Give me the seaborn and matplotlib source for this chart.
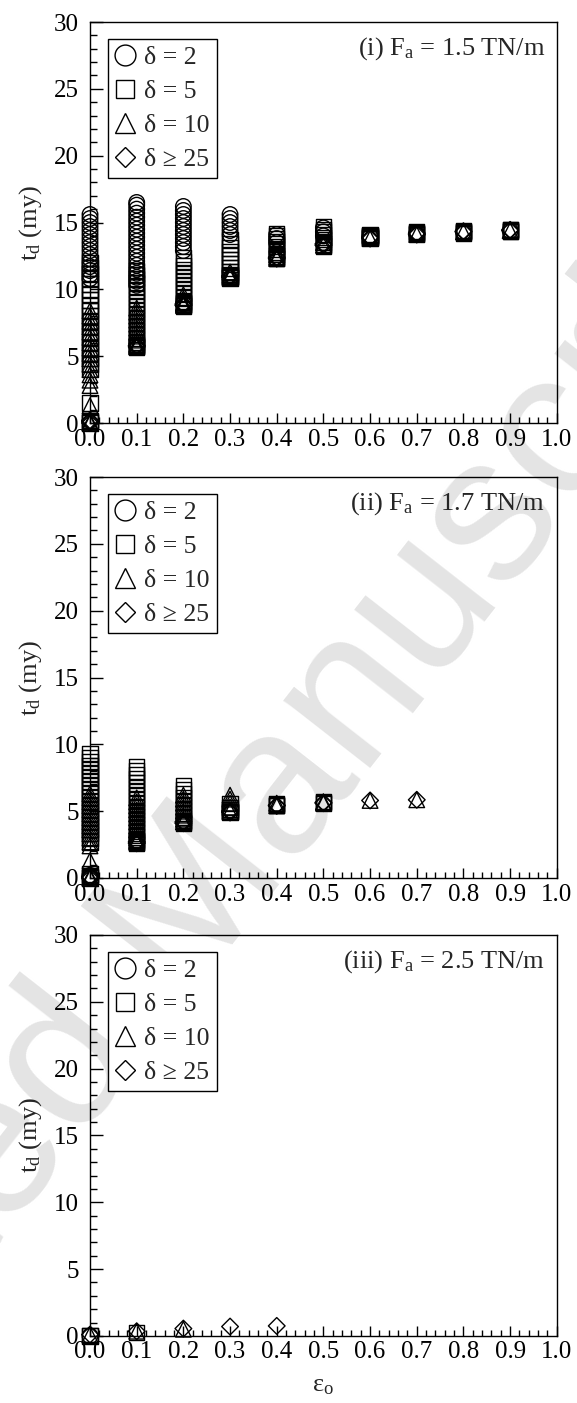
import matplotlib
matplotlib.use("Agg")
import matplotlib.pyplot as plt
from matplotlib.lines import Line2D
from matplotlib.ticker import MultipleLocator, FormatStrFormatter
import pandas as pd
import seaborn as sns

# Decay time t_d (my) versus initial eccentricity eps_o, one dict per delta:
# eccentricity -> list of decay times obtained for that delta.
fa15_d2 = {
    0.0: [15.6, 15.3, 15.0, 14.7, 14.4, 14.1, 13.8, 13.5, 13.2, 12.9, 12.6, 12.3, 12.0, 11.7, 11.4, 11.1, 10.8],
    0.1: [16.5, 16.3, 16.0, 15.7, 15.4, 15.1, 14.8, 14.5, 14.2, 13.9, 13.6, 13.3, 13.0, 12.7, 12.4, 12.1, 11.8, 11.5, 11.2, 10.9, 10.6, 10.3],
    0.2: [16.2, 15.9, 15.6, 15.3, 15.0, 14.7, 14.4, 14.1, 13.8, 13.5, 13.2, 12.9],
    0.3: [15.6, 15.3, 15.0, 14.7, 14.4, 14.1],
    0.4: [14.1, 13.8, 13.5],
    0.5: [14.6, 14.3, 14.0],
    0.6: [14.0, 13.9],
    0.7: [14.2, 14.1],
    0.8: [14.3],
    0.9: [14.4],
}
fa15_d5 = {
    0.0: [12.0, 11.6, 11.2, 10.8, 10.4, 10.0, 9.6, 9.2, 8.8, 8.4, 8.0, 7.6, 7.2, 6.8, 6.4, 6.0, 5.6, 5.2, 4.8, 4.4, 4.0, 1.5, 0.2, 0.1, 0.0],
    0.1: [11.4, 11.1, 10.8, 10.5, 10.2, 9.9, 9.6, 9.3, 9.0, 8.7, 8.4, 8.1, 7.8, 7.5, 7.2, 6.9, 6.6, 6.3, 6.0, 5.9, 5.8, 5.75, 5.7, 5.65],
    0.2: [12.4, 12.1, 11.8, 11.5, 11.2, 10.9, 10.6, 10.3, 10.0, 9.7, 9.4, 9.1, 9.0, 8.9, 8.85, 8.8, 8.75],
    0.3: [13.7, 13.4, 13.1, 12.8, 12.5, 12.2, 11.9, 11.6, 11.3, 11.1, 11.0, 10.95, 10.9, 10.85],
    0.4: [14.2, 14.0, 13.8, 13.6, 13.4, 13.2, 13.0, 12.8, 12.6, 12.5, 12.4, 12.35, 12.3],
    0.5: [14.7, 14.5, 14.3, 14.1, 13.9, 13.7, 13.5, 13.4, 13.3, 13.25],
    0.6: [14.1, 14.05, 14.0, 13.95, 13.9, 13.85, 13.8],
    0.7: [14.3, 14.25, 14.2, 14.15, 14.1],
    0.8: [14.4, 14.35, 14.3, 14.25, 14.2],
    0.9: [14.5, 14.45, 14.4, 14.35, 14.3],
}
fa15_d10 = {
    0.0: [8.4, 8.0, 7.6, 7.2, 6.8, 6.4, 6.0, 5.6, 5.2, 4.8, 4.4, 4.0, 3.6, 3.2, 2.8, 1.3, 0.1, 0.0],
    0.1: [8.6, 8.3, 8.0, 7.7, 7.4, 7.1, 6.8, 6.5, 6.2, 5.9, 5.8, 5.7],
    0.2: [9.6, 9.3, 9.0, 8.9, 8.8],
    0.3: [11.3, 11.1, 11.0, 10.9],
    0.4: [12.6, 12.4, 12.3],
    0.5: [13.5, 13.3],
    0.6: [13.8],
    0.7: [14.1],
    0.8: [14.3],
    0.9: [14.4],
}
fa15_d25 = {
    0.0: [0.2, 0.1, 0.0],
    0.1: [5.8, 5.7],
    0.2: [8.9, 8.8],
    0.3: [11.0, 10.9],
    0.4: [12.4, 12.3],
    0.5: [13.4, 13.3],
    0.6: [13.9, 13.8],
    0.7: [14.2, 14.1],
    0.8: [14.35, 14.3],
    0.9: [14.45, 14.4],
}

fa17_d2 = {
    0.0: [0.2, 0.1, 0.0],
}
fa17_d5 = {
    0.0: [9.3, 9.0, 8.7, 8.4, 8.1, 7.8, 7.5, 7.2, 6.9, 6.6, 6.3, 6.0, 5.7, 5.4, 5.1, 4.8, 4.5, 4.2, 3.9, 3.6, 3.3, 3.0, 2.7, 0.3, 0.1, 0.0],
    0.1: [8.3, 8.0, 7.7, 7.4, 7.1, 6.8, 6.5, 6.2, 5.9, 5.6, 5.3, 5.0, 4.7, 4.4, 4.1, 3.8, 3.5, 3.2, 2.9, 2.8, 2.7, 2.65, 2.6],
    0.2: [6.9, 6.6, 6.3, 6.0, 5.7, 5.4, 5.1, 4.8, 4.5, 4.3, 4.2, 4.15, 4.1],
    0.3: [5.6, 5.3, 5.1, 5.0, 4.95, 4.9],
    0.4: [5.6, 5.5, 5.45, 5.4],
    0.5: [5.7, 5.65, 5.6],
}
fa17_d10 = {
    0.0: [6.3, 6.0, 5.7, 5.4, 5.1, 4.8, 4.5, 4.2, 3.9, 3.6, 3.3, 3.0, 2.7, 2.4, 1.3, 0.1, 0.0],
    0.1: [6.0, 5.7, 5.4, 5.1, 4.8, 4.5, 4.2, 3.9, 3.6, 3.3, 3.0, 2.8, 2.7],
    0.2: [6.2, 5.9, 5.6, 5.3, 5.0, 4.7, 4.4, 4.2],
    0.3: [6.2, 5.9, 5.6, 5.3, 5.0],
    0.4: [5.6, 5.4],
    0.5: [5.7, 5.6],
    0.6: [5.8],
    0.7: [5.85],
}
fa17_d25 = {
    0.0: [0.1, 0.0],
    0.1: [2.7, 2.6],
    0.2: [4.2, 4.1],
    0.3: [5.0, 4.9],
    0.4: [5.45, 5.4],
    0.5: [5.65, 5.6],
    0.6: [5.8],
    0.7: [5.85],
}

fa25_d2 = {0.0: [0.0]}
fa25_d5 = {0.0: [0.05, 0.0], 0.1: [0.25]}
fa25_d10 = {0.0: [0.1], 0.1: [0.35], 0.2: [0.5]}
fa25_d25 = {0.0: [0.1], 0.1: [0.35], 0.2: [0.55], 0.3: [0.7], 0.4: [0.75]}

delta_labels = ["δ = 2", "δ = 5", "δ = 10", "δ ≥ 25"]
panel_titles = [r"(i) F$_\mathrm{a}$ = 1.5 TN/m",
                r"(ii) F$_\mathrm{a}$ = 1.7 TN/m",
                r"(iii) F$_\mathrm{a}$ = 2.5 TN/m"]
panels = [
    [fa15_d2, fa15_d5, fa15_d10, fa15_d25],
    [fa17_d2, fa17_d5, fa17_d10, fa17_d25],
    [fa25_d2, fa25_d5, fa25_d10, fa25_d25],
]

# marker shape and area for each delta (the diamond path is larger, so scale it down)
marker_for = ["o", "s", "^", "D"]
size_for = [125, 120, 125, 72]
legend_ms = [15.0, 13.5, 15.0, 10.5]


def to_frame(series):
    rows = []
    for eps, values in series.items():
        for v in values:
            rows.append({"eps": eps, "td": v})
    return pd.DataFrame(rows)


sns.set_style("ticks")
plt.rcParams["font.family"] = ["Liberation Serif", "DejaVu Serif"]
plt.rcParams["mathtext.fontset"] = "custom"
plt.rcParams["mathtext.rm"] = "Liberation Serif"
plt.rcParams["mathtext.it"] = "Liberation Serif:italic"
plt.rcParams["axes.linewidth"] = 1.0

fig = plt.figure(figsize=(5.77, 14.03), dpi=100)

# faint watermark behind the panels
fig.text(0.367, 0.308, "Accepted Manuscript", fontsize=150, color="#e4e4e4",
         family="Liberation Sans", rotation=52, ha="center", va="baseline",
         rotation_mode="anchor", zorder=-10)

axes_boxes = [
    [0.156, 0.6985, 0.809, 0.2858],
    [0.156, 0.3742, 0.809, 0.2858],
    [0.156, 0.0478, 0.809, 0.2858],
]

for i, (box, series_list, title) in enumerate(zip(axes_boxes, panels, panel_titles)):
    ax = fig.add_axes(box)
    ax.set_facecolor("none")
    for k, series in enumerate(series_list):
        df = to_frame(series)
        sns.scatterplot(data=df, x="eps", y="td", ax=ax, marker=marker_for[k],
                        s=size_for[k], facecolors="none", edgecolor="black",
                        linewidth=1.0, clip_on=False, legend=False, zorder=3)
    ax.set_xlim(0, 1.0)
    ax.set_ylim(0, 30)
    ax.xaxis.set_major_locator(MultipleLocator(0.1))
    ax.xaxis.set_minor_locator(MultipleLocator(0.02))
    ax.yaxis.set_major_locator(MultipleLocator(5))
    ax.yaxis.set_minor_locator(MultipleLocator(1))
    ax.xaxis.set_major_formatter(FormatStrFormatter("%.1f"))
    ax.tick_params(which="both", direction="in", top=False, right=False,
                   labelsize=18, width=1.0, colors="black")
    ax.tick_params(which="major", axis="x", length=7, pad=4)
    ax.tick_params(which="minor", axis="x", length=4)
    ax.tick_params(which="major", axis="y", length=9, pad=8)
    ax.tick_params(which="minor", axis="y", length=5)
    for sp in ax.spines.values():
        sp.set_color("black")
        sp.set_linewidth(1.0)
    ax.set_ylabel(r"t$_\mathrm{d}$ (my)", fontsize=19, labelpad=7)
    if i == 2:
        ax.set_xlabel(r"ε$_\mathrm{o}$", fontsize=19, labelpad=8)
    else:
        ax.set_xlabel("")
    ax.text(0.975, 0.968, title, transform=ax.transAxes, ha="right", va="top",
            fontsize=19)
    handles = [Line2D([], [], linestyle="none", marker=marker_for[k],
                      markersize=legend_ms[k], markerfacecolor="none",
                      markeredgecolor="black", markeredgewidth=1.0)
               for k in range(4)]
    leg = ax.legend(handles, delta_labels, loc="upper left",
                    bbox_to_anchor=(0.0385, 0.958), borderaxespad=0,
                    fontsize=18.5, frameon=True, fancybox=False, framealpha=1,
                    edgecolor="black", handlelength=0.8, handletextpad=0.32,
                    labelspacing=0.43, borderpad=0.28)
    leg.get_frame().set_linewidth(1.0)

fig.savefig("out.png", dpi=100)
